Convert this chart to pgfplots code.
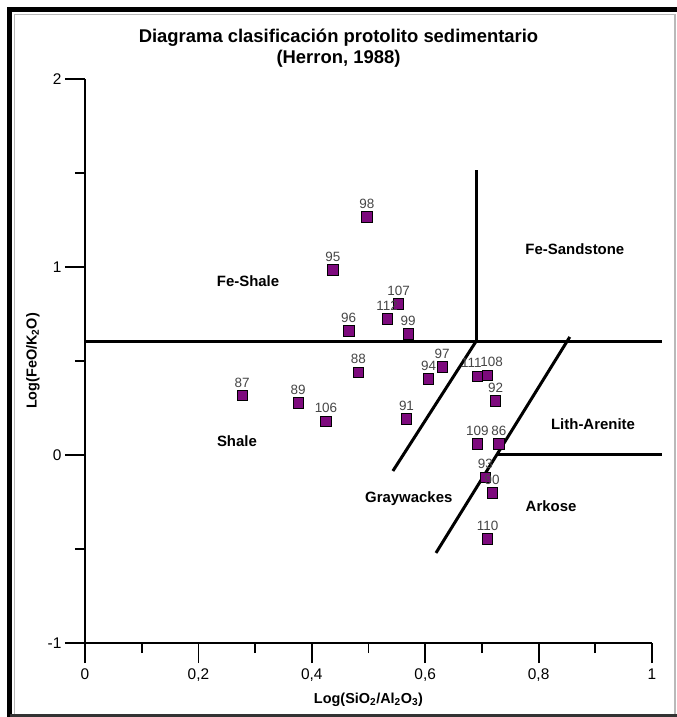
\documentclass[border=0pt]{standalone}
\usepackage{fontspec}
\setmainfont{Liberation Sans}
\usepackage{pgfplots}
\usepackage{pgfplotstable}
\pgfplotsset{compat=1.18}
\definecolor{ptpurple}{RGB}{125,10,125}
\definecolor{lblgray}{RGB}{70,70,70}
\tikzset{labnode/.style={anchor=south, inner sep=0pt, yshift=8bp,
    text=lblgray, font=\fontsize{13.5}{15}\selectfont}}
\pgfplotstableread{
x y lab
0.497 1.266 98
0.437 0.984 95
0.553 0.803 107
0.533 0.725 112
0.465 0.661 96
0.570 0.644 99
0.277 0.316 87
0.376 0.278 89
0.425 0.179 106
0.482 0.440 88
0.567 0.193 91
0.606 0.406 94
0.630 0.468 97
0.724 0.287 92
0.692 0.059 109
0.730 0.059 86
0.706 -0.119 93
0.718 -0.202 90
0.710 -0.447 110
}\pts
\pgfplotstableread{
x y lab
0.692 0.419 111
}\ptsa
\pgfplotstableread{
x y lab
0.710 0.424 108
}\ptsb
\begin{document}
\begin{tikzpicture}
\path[use as bounding box] (0bp,0bp) rectangle (677bp,717bp);
\fill[white] (0bp,0bp) rectangle (677bp,717bp);
% frame
\draw[line width=5bp] (9.5bp,0bp) -- (9.5bp,707.5bp) -- (677bp,707.5bp);
\draw[gray!55, line width=1.5bp] (14.5bp,2bp) -- (14.5bp,702.5bp) -- (675bp,702.5bp) -- (675bp,2bp);
\draw[black!80, line width=2bp] (9.5bp,1.5bp) -- (677bp,1.5bp);
% title
\node[font=\bfseries\fontsize{18.5}{21}\selectfont, align=center] at (338.5bp,668.5bp)
  {Diagrama clasificación protolito sedimentario\\(Herron, 1988)};
\begin{axis}[
  at={(85bp,74bp)}, anchor=south west,
  scale only axis, width=567bp, height=564bp,
  xmin=0, xmax=1, ymin=-1, ymax=2,
  axis x line=bottom, axis y line=left,
  axis line style={-, line width=1.8bp},
  xtick={0,0.2,0.4,0.6,0.8,1},
  xticklabels={0,{0,2},{0,4},{0,6},{0,8},1},
  minor xtick={0.1,0.3,0.5,0.7,0.9},
  ytick={-1,0,1,2},
  yticklabels={-1,0,1,2},
  minor ytick={-0.5,0.5,1.5},
  tick align=outside,
  major tick length=20bp, minor tick length=10bp,
  every tick/.style={black, line width=1.8bp},
  tick label style={font=\fontsize{15.5}{17}\selectfont},
  xticklabel style={yshift=-2bp},
  xlabel={\textbf{Log(SiO\textsubscript{2}/Al\textsubscript{2}O\textsubscript{3})}},
  ylabel={\textbf{Log(FeO/K\textsubscript{2}O)}},
  label style={font=\fontsize{14.5}{16}\selectfont},
  xlabel style={at={(axis description cs:0.5,0)}, anchor=center, yshift=-57bp},
  ylabel style={at={(axis description cs:0,0.5)}, anchor=center, yshift=52bp},
  clip=false,
  lab/.style={only marks, mark=square*, mark size=5.2bp,
    mark options={fill=ptpurple, draw=black, line width=0.7bp},
    nodes near coords, point meta=explicit symbolic},
]
\addplot[black, line width=3bp] coordinates {(0,0.606) (1.018,0.606)};
\addplot[black, line width=3bp] coordinates {(0.69,0.606) (0.69,1.516)};
\addplot[black, line width=3bp] coordinates {(0.543,-0.085) (0.69,0.606)};
\addplot[black, line width=3bp] coordinates {(0.619,-0.521) (0.855,0.628)};
\addplot[black, line width=3bp] coordinates {(0.727,0) (1.018,0)};
\addplot[lab, every node near coord/.append style={labnode}]
  table[x=x, y=y, meta=lab] {\pts};
\addplot[lab, every node near coord/.append style={labnode, xshift=-6bp}]
  table[x=x, y=y, meta=lab] {\ptsa};
\addplot[lab, every node near coord/.append style={labnode, xshift=4bp}]
  table[x=x, y=y, meta=lab] {\ptsb};
\node[font=\bfseries\fontsize{15}{17}\selectfont] at (axis cs:0.2875,0.926) {Fe-Shale};
\node[font=\bfseries\fontsize{15}{17}\selectfont] at (axis cs:0.864,1.096) {Fe-Sandstone};
\node[font=\bfseries\fontsize{15}{17}\selectfont] at (axis cs:0.268,0.071) {Shale};
\node[font=\bfseries\fontsize{15}{17}\selectfont] at (axis cs:0.571,-0.234) {Graywackes};
\node[font=\bfseries\fontsize{15}{17}\selectfont] at (axis cs:0.896,0.165) {Lith-Arenite};
\node[font=\bfseries\fontsize{15}{17}\selectfont] at (axis cs:0.822,-0.271) {Arkose};
\end{axis}
\end{tikzpicture}
\end{document}
